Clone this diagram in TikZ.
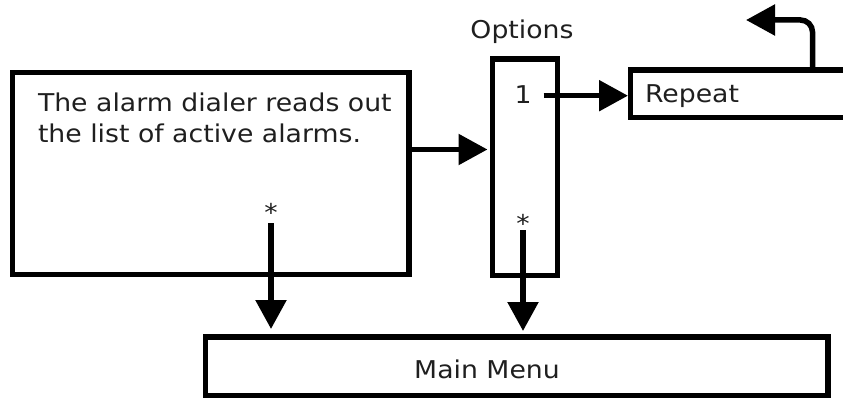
\documentclass[tikz,border=0pt]{standalone}
\usepackage{fontspec}
\setmainfont[FakeStretch=1.09]{DejaVu Sans}
\usetikzlibrary{arrows.meta,calc}
\tikzset{
  box/.style={draw, line width=5.5pt, inner sep=0pt, outer sep=0pt},
  lbl/.style={inner sep=0pt, outer sep=0pt, font=\fontsize{24.5}{31}\selectfont, text=black!88},
  arr/.style={line width=5.5pt, -{Triangle[length=29pt, width=30pt]}},
}
\begin{document}
\begin{tikzpicture}[x=1pt, y=-1pt]
\useasboundingbox (0,0) rectangle (843,398);
\clip (0,0) rectangle (843,398);
% boxes
\node[box, minimum width=396.5pt, minimum height=202pt] (dialer) at (210.75,173.5) {};
\node[box, minimum width=65pt, minimum height=216.5pt] (opts) at (525,167.25) {};
\node[box, minimum width=364pt, minimum height=47.5pt, anchor=west] (rep) at (630.5,93.75) {};
\node[box, minimum width=622.5pt, minimum height=58.5pt] (main) at (516.75,366.25) {};
% texts
\node[lbl, anchor=north west, align=left] (dtext) at (38,93) {The alarm dialer reads out\\the list of active alarms.};
\node[lbl, anchor=base] (optlbl) at (522,39) {Options};
\node[lbl, anchor=base] (one) at (523,104) {1};
\node[lbl, anchor=base west] (reptext) at (645,103) {Repeat};
\node[lbl, anchor=base] (maintext) at (487,378) {Main Menu};
\node[lbl, anchor=base] (s1) at (271,222) {*};
\node[lbl, anchor=base] (s2) at (523,233) {*};
\coordinate (ret) at (746,20);
% connectors
\draw[arr, shorten >=5pt] (dialer.east |- 0,149.5) -- (opts.west |- 0,149.5);
\draw[arr, shorten >=2.5pt, shorten <=12pt] (one.east |- 0,95.7) -- (rep.west |- 0,95.7);
\draw[arr, shorten >=8pt] ($(s1.base)+(0,1)$) -- (s1.base |- main.north);
\draw[arr, shorten >=6pt] ($(s2.base)+(0,-3)$) -- (s2.base |- main.north);
\draw[arr, rounded corners=12pt] (rep.north) |- (ret);
\end{tikzpicture}
\end{document}
